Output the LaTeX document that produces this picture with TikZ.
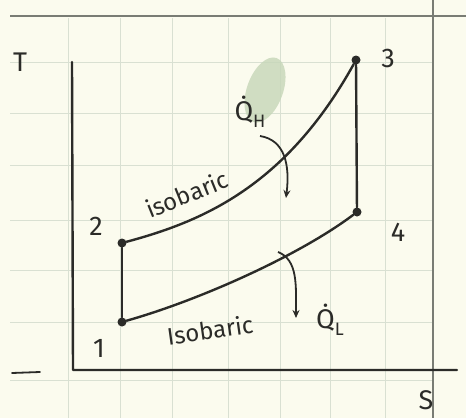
\documentclass[tikz,border=0pt]{standalone}
\usepackage{fontspec}
\setmainfont{Fira Sans}
\usetikzlibrary{arrows.meta}
\definecolor{paper}{HTML}{FBFBEE}
\definecolor{gridc}{HTML}{D9E0D2}
\definecolor{ink}{HTML}{2B2B28}
\definecolor{smudge}{HTML}{C6D6B8}
\tikzset{
  ink/.style={draw=ink, line width=2.4pt, line cap=round, line join=round},
  gridline/.style={draw=gridc, line width=0.8pt},
  border/.style={draw=ink!55!gridc, line width=1.4pt},
  pt/.style={circle, fill=ink, inner sep=0pt, minimum size=9pt},
  lbl/.style={text=ink, font=\fontsize{27}{27}\selectfont, inner sep=0pt},
  curvelbl/.style={text=ink, font=\fontsize{24}{24}\selectfont, inner sep=0pt},
  harrow/.style={draw=ink, line width=1.8pt, -{Stealth[length=8pt,width=7pt]}}
}
\newcommand{\subsc}[1]{\raisebox{-0.25em}{\fontsize{18}{18}\selectfont #1}}
\begin{document}
\begin{tikzpicture}[x=1pt,y=-1pt]
\useasboundingbox (0,0) rectangle (466,418);
\fill[paper] (0,0) rectangle (466,418);
% grid
\foreach \gx in {68,120,172,228,280,330,385}
  \draw[gridline] (\gx,18) -- (\gx,418);
\foreach \gy in {62,113,165,220,270,322,380}
  \draw[gridline] (10,\gy) -- (432,\gy);
\draw[border] (10,16) -- (466,16);
\draw[border] (433,0) -- (433,418);
% green smudge
\fill[smudge, opacity=0.8, rotate around={-20:(265,90)}] (265,90) ellipse (18pt and 34pt);
% axes
\coordinate (ytop) at (72,62);
\coordinate (orig) at (73,370);
\coordinate (xend) at (457,370);
\draw[ink] (ytop) -- (orig) -- (xend);
\draw[ink, line width=1.8pt] (12,373) -- (40,372);
\node[lbl] (T) at (20,62) {T};
\node[lbl] (S) at (426,400) {S};
% state points
\node[pt] (p1) at (122,322) {};
\node[pt] (p2) at (122,243) {};
\node[pt] (p3) at (356,60) {};
\node[pt] (p4) at (357,212) {};
\node[lbl] (l1) at (99,348) {1};
\node[lbl] (l2) at (96,226) {2};
\node[lbl] (l3) at (388,58) {3};
\node[lbl] (l4) at (398,232) {4};
% cycle
\draw[ink] (p1) -- (p2);
\draw[ink] (p2) .. controls (200,222) and (285,188) .. (p3);
\draw[ink] (p3) -- (p4);
\draw[ink] (p4) .. controls (300,255) and (200,300) .. (p1);
% isobaric labels
\node[curvelbl, rotate=22] (iso1) at (187,194) {isobaric};
\node[curvelbl, rotate=8] (iso2) at (210,330) {Isobaric};
% heat labels
\node[lbl] (QH) at (250,112) {Q̇\subsc{H}};
\node[lbl] (QL) at (330,320) {Q̇\subsc{L}};
% heat arrows
\coordinate (qha) at (260,136);
\coordinate (qhb) at (286,198);
\draw[harrow] (qha) .. controls (285,140) and (290,165) .. (qhb);
\coordinate (qla) at (278,252);
\coordinate (qlb) at (296,318);
\draw[harrow] (qla) .. controls (298,260) and (296,285) .. (qlb);
\end{tikzpicture}
\end{document}
